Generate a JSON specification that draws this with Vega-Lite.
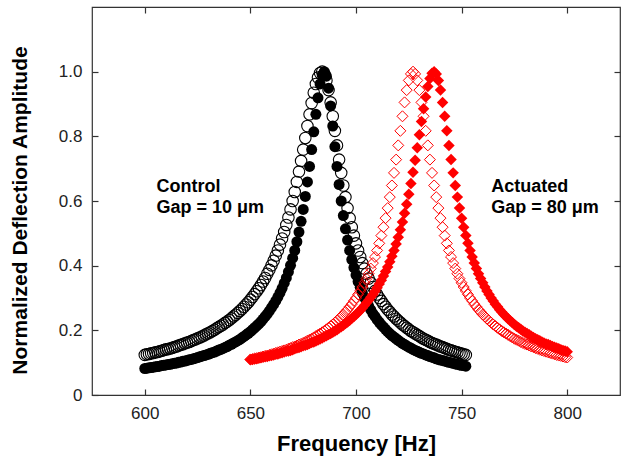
{
"$schema": "https://vega.github.io/schema/vega-lite/v6.json",
"width": 528, "height": 388,
"autosize": "none",
"padding": {"left": 92, "top": 7, "right": 9, "bottom": 67},
"background": "white",
"config": {"view": {"stroke": "#333333", "strokeWidth": 1.2}, "font": "Liberation Sans",
 "axis": {"grid": false, "domain": false, "tickColor": "#333333", "tickWidth": 1.2, "tickSize": -6, "labelFont": "Liberation Sans", "labelFontSize": 17, "labelColor": "#222222", "titleFont": "Liberation Sans", "titleFontSize": 20, "titleFontWeight": "bold", "titleColor": "#000000"}},
"datasets": {
"bo": [{"f":600,"a":0.124},{"f":601,"a":0.126},{"f":602,"a":0.127},{"f":603,"a":0.129},{"f":604,"a":0.130},{"f":605,"a":0.132},{"f":606,"a":0.133},{"f":607,"a":0.135},{"f":608,"a":0.137},{"f":609,"a":0.139},{"f":610,"a":0.141},{"f":611,"a":0.142},{"f":612,"a":0.144},{"f":613,"a":0.146},{"f":614,"a":0.148},{"f":615,"a":0.150},{"f":616,"a":0.153},{"f":617,"a":0.155},{"f":618,"a":0.157},{"f":619,"a":0.160},{"f":620,"a":0.162},{"f":621,"a":0.164},{"f":622,"a":0.167},{"f":623,"a":0.170},{"f":624,"a":0.172},{"f":625,"a":0.175},{"f":626,"a":0.178},{"f":627,"a":0.181},{"f":628,"a":0.184},{"f":629,"a":0.188},{"f":630,"a":0.191},{"f":631,"a":0.194},{"f":632,"a":0.198},{"f":633,"a":0.202},{"f":634,"a":0.206},{"f":635,"a":0.210},{"f":636,"a":0.214},{"f":637,"a":0.218},{"f":638,"a":0.223},{"f":639,"a":0.227},{"f":640,"a":0.232},{"f":641,"a":0.237},{"f":642,"a":0.243},{"f":643,"a":0.248},{"f":644,"a":0.254},{"f":645,"a":0.260},{"f":646,"a":0.266},{"f":647,"a":0.273},{"f":648,"a":0.280},{"f":649,"a":0.287},{"f":650,"a":0.295},{"f":651,"a":0.303},{"f":652,"a":0.312},{"f":653,"a":0.321},{"f":654,"a":0.330},{"f":655,"a":0.340},{"f":656,"a":0.351},{"f":657,"a":0.362},{"f":658,"a":0.375},{"f":659,"a":0.387},{"f":660,"a":0.401},{"f":661,"a":0.415},{"f":662,"a":0.431},{"f":663,"a":0.447},{"f":664,"a":0.465},{"f":665,"a":0.484},{"f":666,"a":0.504},{"f":667,"a":0.526},{"f":668,"a":0.549},{"f":669,"a":0.574},{"f":670,"a":0.600},{"f":671,"a":0.628},{"f":672,"a":0.659},{"f":673,"a":0.691},{"f":674,"a":0.724},{"f":675,"a":0.759},{"f":676,"a":0.795},{"f":677,"a":0.832},{"f":678,"a":0.868},{"f":679,"a":0.903},{"f":680,"a":0.935},{"f":681,"a":0.962},{"f":682,"a":0.982},{"f":683,"a":0.996},{"f":684,"a":1.0},{"f":685,"a":0.993},{"f":686,"a":0.973},{"f":687,"a":0.943},{"f":688,"a":0.905},{"f":689,"a":0.862},{"f":690,"a":0.817},{"f":691,"a":0.772},{"f":692,"a":0.728},{"f":693,"a":0.687},{"f":694,"a":0.648},{"f":695,"a":0.612},{"f":696,"a":0.578},{"f":697,"a":0.547},{"f":698,"a":0.519},{"f":699,"a":0.493},{"f":700,"a":0.469},{"f":701,"a":0.447},{"f":702,"a":0.427},{"f":703,"a":0.408},{"f":704,"a":0.391},{"f":705,"a":0.375},{"f":706,"a":0.360},{"f":707,"a":0.347},{"f":708,"a":0.334},{"f":709,"a":0.322},{"f":710,"a":0.311},{"f":711,"a":0.300},{"f":712,"a":0.291},{"f":713,"a":0.281},{"f":714,"a":0.273},{"f":715,"a":0.264},{"f":716,"a":0.257},{"f":717,"a":0.249},{"f":718,"a":0.243},{"f":719,"a":0.236},{"f":720,"a":0.230},{"f":721,"a":0.224},{"f":722,"a":0.218},{"f":723,"a":0.213},{"f":724,"a":0.208},{"f":725,"a":0.203},{"f":726,"a":0.198},{"f":727,"a":0.194},{"f":728,"a":0.190},{"f":729,"a":0.186},{"f":730,"a":0.182},{"f":731,"a":0.178},{"f":732,"a":0.174},{"f":733,"a":0.171},{"f":734,"a":0.168},{"f":735,"a":0.164},{"f":736,"a":0.161},{"f":737,"a":0.158},{"f":738,"a":0.156},{"f":739,"a":0.153},{"f":740,"a":0.150},{"f":741,"a":0.148},{"f":742,"a":0.145},{"f":743,"a":0.143},{"f":744,"a":0.140},{"f":745,"a":0.138},{"f":746,"a":0.136},{"f":747,"a":0.134},{"f":748,"a":0.132},{"f":749,"a":0.130},{"f":750,"a":0.128},{"f":751,"a":0.126},{"f":752,"a":0.124}],
"bf": [{"f":600,"a":0.082},{"f":601,"a":0.083},{"f":602,"a":0.084},{"f":603,"a":0.085},{"f":604,"a":0.086},{"f":605,"a":0.087},{"f":606,"a":0.088},{"f":607,"a":0.089},{"f":608,"a":0.091},{"f":609,"a":0.092},{"f":610,"a":0.093},{"f":611,"a":0.094},{"f":612,"a":0.095},{"f":613,"a":0.097},{"f":614,"a":0.098},{"f":615,"a":0.099},{"f":616,"a":0.101},{"f":617,"a":0.102},{"f":618,"a":0.104},{"f":619,"a":0.105},{"f":620,"a":0.107},{"f":621,"a":0.109},{"f":622,"a":0.110},{"f":623,"a":0.112},{"f":624,"a":0.114},{"f":625,"a":0.116},{"f":626,"a":0.118},{"f":627,"a":0.120},{"f":628,"a":0.122},{"f":629,"a":0.124},{"f":630,"a":0.126},{"f":631,"a":0.129},{"f":632,"a":0.131},{"f":633,"a":0.133},{"f":634,"a":0.136},{"f":635,"a":0.139},{"f":636,"a":0.141},{"f":637,"a":0.144},{"f":638,"a":0.147},{"f":639,"a":0.150},{"f":640,"a":0.154},{"f":641,"a":0.157},{"f":642,"a":0.161},{"f":643,"a":0.164},{"f":644,"a":0.168},{"f":645,"a":0.172},{"f":646,"a":0.177},{"f":647,"a":0.181},{"f":648,"a":0.186},{"f":649,"a":0.191},{"f":650,"a":0.196},{"f":651,"a":0.202},{"f":652,"a":0.208},{"f":653,"a":0.214},{"f":654,"a":0.220},{"f":655,"a":0.227},{"f":656,"a":0.235},{"f":657,"a":0.243},{"f":658,"a":0.251},{"f":659,"a":0.260},{"f":660,"a":0.270},{"f":661,"a":0.280},{"f":662,"a":0.291},{"f":663,"a":0.303},{"f":664,"a":0.316},{"f":665,"a":0.330},{"f":666,"a":0.346},{"f":667,"a":0.362},{"f":668,"a":0.381},{"f":669,"a":0.401},{"f":670,"a":0.423},{"f":671,"a":0.447},{"f":672,"a":0.474},{"f":673,"a":0.504},{"f":674,"a":0.537},{"f":675,"a":0.574},{"f":676,"a":0.614},{"f":677,"a":0.659},{"f":678,"a":0.707},{"f":679,"a":0.759},{"f":680,"a":0.814},{"f":681,"a":0.868},{"f":682,"a":0.919},{"f":683,"a":0.962},{"f":684,"a":0.990},{"f":685,"a":1.0},{"f":686,"a":0.986},{"f":687,"a":0.949},{"f":688,"a":0.894},{"f":689,"a":0.832},{"f":690,"a":0.768},{"f":691,"a":0.707},{"f":692,"a":0.651},{"f":693,"a":0.600},{"f":694,"a":0.555},{"f":695,"a":0.514},{"f":696,"a":0.479},{"f":697,"a":0.447},{"f":698,"a":0.419},{"f":699,"a":0.394},{"f":700,"a":0.371},{"f":701,"a":0.351},{"f":702,"a":0.333},{"f":703,"a":0.316},{"f":704,"a":0.301},{"f":705,"a":0.287},{"f":706,"a":0.275},{"f":707,"a":0.263},{"f":708,"a":0.252},{"f":709,"a":0.243},{"f":710,"a":0.233},{"f":711,"a":0.225},{"f":712,"a":0.217},{"f":713,"a":0.210},{"f":714,"a":0.203},{"f":715,"a":0.196},{"f":716,"a":0.190},{"f":717,"a":0.184},{"f":718,"a":0.179},{"f":719,"a":0.174},{"f":720,"a":0.169},{"f":721,"a":0.164},{"f":722,"a":0.160},{"f":723,"a":0.156},{"f":724,"a":0.152},{"f":725,"a":0.148},{"f":726,"a":0.145},{"f":727,"a":0.141},{"f":728,"a":0.138},{"f":729,"a":0.135},{"f":730,"a":0.132},{"f":731,"a":0.129},{"f":732,"a":0.127},{"f":733,"a":0.124},{"f":734,"a":0.122},{"f":735,"a":0.119},{"f":736,"a":0.117},{"f":737,"a":0.115},{"f":738,"a":0.112},{"f":739,"a":0.110},{"f":740,"a":0.108},{"f":741,"a":0.107},{"f":742,"a":0.105},{"f":743,"a":0.103},{"f":744,"a":0.101},{"f":745,"a":0.100},{"f":746,"a":0.098},{"f":747,"a":0.096},{"f":748,"a":0.095},{"f":749,"a":0.093},{"f":750,"a":0.092},{"f":751,"a":0.091},{"f":752,"a":0.089}],
"ro": [{"f":650,"a":0.110},{"f":651,"a":0.111},{"f":652,"a":0.113},{"f":653,"a":0.114},{"f":654,"a":0.116},{"f":655,"a":0.117},{"f":656,"a":0.119},{"f":657,"a":0.121},{"f":658,"a":0.122},{"f":659,"a":0.124},{"f":660,"a":0.126},{"f":661,"a":0.128},{"f":662,"a":0.130},{"f":663,"a":0.132},{"f":664,"a":0.134},{"f":665,"a":0.136},{"f":666,"a":0.138},{"f":667,"a":0.140},{"f":668,"a":0.143},{"f":669,"a":0.145},{"f":670,"a":0.148},{"f":671,"a":0.150},{"f":672,"a":0.153},{"f":673,"a":0.156},{"f":674,"a":0.158},{"f":675,"a":0.161},{"f":676,"a":0.164},{"f":677,"a":0.168},{"f":678,"a":0.171},{"f":679,"a":0.174},{"f":680,"a":0.178},{"f":681,"a":0.182},{"f":682,"a":0.186},{"f":683,"a":0.190},{"f":684,"a":0.194},{"f":685,"a":0.198},{"f":686,"a":0.203},{"f":687,"a":0.208},{"f":688,"a":0.213},{"f":689,"a":0.218},{"f":690,"a":0.224},{"f":691,"a":0.230},{"f":692,"a":0.236},{"f":693,"a":0.243},{"f":694,"a":0.249},{"f":695,"a":0.257},{"f":696,"a":0.264},{"f":697,"a":0.273},{"f":698,"a":0.281},{"f":699,"a":0.291},{"f":700,"a":0.300},{"f":701,"a":0.311},{"f":702,"a":0.322},{"f":703,"a":0.334},{"f":704,"a":0.347},{"f":705,"a":0.360},{"f":706,"a":0.375},{"f":707,"a":0.391},{"f":708,"a":0.408},{"f":709,"a":0.427},{"f":710,"a":0.447},{"f":711,"a":0.469},{"f":712,"a":0.493},{"f":713,"a":0.519},{"f":714,"a":0.547},{"f":715,"a":0.578},{"f":716,"a":0.612},{"f":717,"a":0.648},{"f":718,"a":0.687},{"f":719,"a":0.728},{"f":720,"a":0.772},{"f":721,"a":0.817},{"f":722,"a":0.862},{"f":723,"a":0.905},{"f":724,"a":0.943},{"f":725,"a":0.973},{"f":726,"a":0.993},{"f":727,"a":1.0},{"f":728,"a":0.993},{"f":729,"a":0.973},{"f":730,"a":0.943},{"f":731,"a":0.905},{"f":732,"a":0.862},{"f":733,"a":0.817},{"f":734,"a":0.772},{"f":735,"a":0.728},{"f":736,"a":0.687},{"f":737,"a":0.648},{"f":738,"a":0.612},{"f":739,"a":0.578},{"f":740,"a":0.547},{"f":741,"a":0.519},{"f":742,"a":0.493},{"f":743,"a":0.469},{"f":744,"a":0.447},{"f":745,"a":0.427},{"f":746,"a":0.408},{"f":747,"a":0.391},{"f":748,"a":0.375},{"f":749,"a":0.360},{"f":750,"a":0.347},{"f":751,"a":0.334},{"f":752,"a":0.322},{"f":753,"a":0.311},{"f":754,"a":0.300},{"f":755,"a":0.291},{"f":756,"a":0.281},{"f":757,"a":0.273},{"f":758,"a":0.264},{"f":759,"a":0.257},{"f":760,"a":0.249},{"f":761,"a":0.243},{"f":762,"a":0.236},{"f":763,"a":0.230},{"f":764,"a":0.224},{"f":765,"a":0.218},{"f":766,"a":0.213},{"f":767,"a":0.208},{"f":768,"a":0.203},{"f":769,"a":0.198},{"f":770,"a":0.194},{"f":771,"a":0.190},{"f":772,"a":0.186},{"f":773,"a":0.182},{"f":774,"a":0.178},{"f":775,"a":0.174},{"f":776,"a":0.171},{"f":777,"a":0.168},{"f":778,"a":0.164},{"f":779,"a":0.161},{"f":780,"a":0.158},{"f":781,"a":0.156},{"f":782,"a":0.153},{"f":783,"a":0.150},{"f":784,"a":0.148},{"f":785,"a":0.145},{"f":786,"a":0.143},{"f":787,"a":0.140},{"f":788,"a":0.138},{"f":789,"a":0.136},{"f":790,"a":0.134},{"f":791,"a":0.132},{"f":792,"a":0.130},{"f":793,"a":0.128},{"f":794,"a":0.126},{"f":795,"a":0.124},{"f":796,"a":0.122},{"f":797,"a":0.121},{"f":798,"a":0.119},{"f":799,"a":0.117},{"f":800,"a":0.116}],
"rf": [{"f":650,"a":0.109},{"f":651,"a":0.110},{"f":652,"a":0.111},{"f":653,"a":0.112},{"f":654,"a":0.114},{"f":655,"a":0.115},{"f":656,"a":0.117},{"f":657,"a":0.118},{"f":658,"a":0.119},{"f":659,"a":0.121},{"f":660,"a":0.122},{"f":661,"a":0.124},{"f":662,"a":0.126},{"f":663,"a":0.127},{"f":664,"a":0.129},{"f":665,"a":0.131},{"f":666,"a":0.133},{"f":667,"a":0.135},{"f":668,"a":0.136},{"f":669,"a":0.138},{"f":670,"a":0.140},{"f":671,"a":0.143},{"f":672,"a":0.145},{"f":673,"a":0.147},{"f":674,"a":0.149},{"f":675,"a":0.152},{"f":676,"a":0.154},{"f":677,"a":0.156},{"f":678,"a":0.159},{"f":679,"a":0.162},{"f":680,"a":0.164},{"f":681,"a":0.167},{"f":682,"a":0.170},{"f":683,"a":0.173},{"f":684,"a":0.176},{"f":685,"a":0.180},{"f":686,"a":0.183},{"f":687,"a":0.187},{"f":688,"a":0.190},{"f":689,"a":0.194},{"f":690,"a":0.198},{"f":691,"a":0.202},{"f":692,"a":0.207},{"f":693,"a":0.211},{"f":694,"a":0.216},{"f":695,"a":0.221},{"f":696,"a":0.226},{"f":697,"a":0.231},{"f":698,"a":0.237},{"f":699,"a":0.243},{"f":700,"a":0.249},{"f":701,"a":0.255},{"f":702,"a":0.262},{"f":703,"a":0.269},{"f":704,"a":0.277},{"f":705,"a":0.285},{"f":706,"a":0.293},{"f":707,"a":0.302},{"f":708,"a":0.311},{"f":709,"a":0.321},{"f":710,"a":0.332},{"f":711,"a":0.343},{"f":712,"a":0.355},{"f":713,"a":0.368},{"f":714,"a":0.382},{"f":715,"a":0.396},{"f":716,"a":0.412},{"f":717,"a":0.429},{"f":718,"a":0.447},{"f":719,"a":0.467},{"f":720,"a":0.488},{"f":721,"a":0.511},{"f":722,"a":0.535},{"f":723,"a":0.562},{"f":724,"a":0.590},{"f":725,"a":0.621},{"f":726,"a":0.654},{"f":727,"a":0.689},{"f":728,"a":0.726},{"f":729,"a":0.765},{"f":730,"a":0.805},{"f":731,"a":0.846},{"f":732,"a":0.885},{"f":733,"a":0.922},{"f":734,"a":0.954},{"f":735,"a":0.979},{"f":736,"a":0.995},{"f":737,"a":1.0},{"f":738,"a":0.993},{"f":739,"a":0.973},{"f":740,"a":0.943},{"f":741,"a":0.905},{"f":742,"a":0.862},{"f":743,"a":0.817},{"f":744,"a":0.772},{"f":745,"a":0.728},{"f":746,"a":0.687},{"f":747,"a":0.648},{"f":748,"a":0.612},{"f":749,"a":0.578},{"f":750,"a":0.547},{"f":751,"a":0.519},{"f":752,"a":0.493},{"f":753,"a":0.469},{"f":754,"a":0.447},{"f":755,"a":0.427},{"f":756,"a":0.408},{"f":757,"a":0.391},{"f":758,"a":0.375},{"f":759,"a":0.360},{"f":760,"a":0.347},{"f":761,"a":0.334},{"f":762,"a":0.322},{"f":763,"a":0.311},{"f":764,"a":0.300},{"f":765,"a":0.291},{"f":766,"a":0.281},{"f":767,"a":0.273},{"f":768,"a":0.264},{"f":769,"a":0.257},{"f":770,"a":0.249},{"f":771,"a":0.243},{"f":772,"a":0.236},{"f":773,"a":0.230},{"f":774,"a":0.224},{"f":775,"a":0.218},{"f":776,"a":0.213},{"f":777,"a":0.208},{"f":778,"a":0.203},{"f":779,"a":0.198},{"f":780,"a":0.194},{"f":781,"a":0.190},{"f":782,"a":0.186},{"f":783,"a":0.182},{"f":784,"a":0.178},{"f":785,"a":0.174},{"f":786,"a":0.171},{"f":787,"a":0.168},{"f":788,"a":0.164},{"f":789,"a":0.161},{"f":790,"a":0.158},{"f":791,"a":0.156},{"f":792,"a":0.153},{"f":793,"a":0.150},{"f":794,"a":0.148},{"f":795,"a":0.145},{"f":796,"a":0.143},{"f":797,"a":0.140},{"f":798,"a":0.138},{"f":799,"a":0.136},{"f":800,"a":0.134}],
"labels": [{"f":605.5,"a":0.629,"t":"Control"},{"f":605.5,"a":0.562,"t":"Gap = 10 μm"},{"f":764,"a":0.629,"t":"Actuated"},{"f":764,"a":0.562,"t":"Gap = 80 μm"}]
},
"layer": [
 {"data": {"name": "bo"},
  "mark": {"type": "point", "shape": "circle", "filled": false, "stroke": "#000000", "strokeWidth": 1.1, "size": 132, "opacity": 1},
  "encoding": {
   "x": {"field": "f", "type": "quantitative", "scale": {"domain": [575, 825], "nice": false, "zero": false},
         "axis": {"orient": "bottom", "title": "Frequency [Hz]", "titleFontSize": 22, "values": [600, 650, 700, 750, 800], "labelPadding": 16, "titlePadding": 12}},
   "y": {"field": "a", "type": "quantitative", "scale": {"domain": [0, 1.2], "nice": false},
         "axis": {"orient": "left", "title": "Normalized Deflection Amplitude", "titleFontSize": 21, "titleY": 203, "values": [0, 0.2, 0.4, 0.6, 0.8, 1.0], "labelExpr": "datum.value == 0 ? '0' : format(datum.value, '.1f')", "labelPadding": 16, "titlePadding": 28}}}},
 {"data": {"name": "bf"},
  "mark": {"type": "point", "shape": "circle", "filled": true, "fill": "#000000", "size": 121, "opacity": 1, "strokeWidth": 0},
  "encoding": {
   "x": {"field": "f", "type": "quantitative", "scale": {"domain": [575, 825], "nice": false, "zero": false},
         "axis": {"orient": "top", "labels": false, "title": null, "values": [600, 650, 700, 750, 800]}},
   "y": {"field": "a", "type": "quantitative", "scale": {"domain": [0, 1.2], "nice": false},
         "axis": {"orient": "right", "labels": false, "title": null, "values": [0.2, 0.4, 0.6, 0.8, 1.0]}}}},
 {"data": {"name": "ro"},
  "mark": {"type": "point", "shape": "diamond", "filled": false, "stroke": "#ff0000", "strokeWidth": 1, "size": 121, "opacity": 1},
  "encoding": {
   "x": {"field": "f", "type": "quantitative", "axis": null},
   "y": {"field": "a", "type": "quantitative", "axis": null}}},
 {"data": {"name": "rf"},
  "mark": {"type": "point", "shape": "diamond", "filled": true, "fill": "#ff0000", "size": 132, "opacity": 1, "strokeWidth": 0},
  "encoding": {
   "x": {"field": "f", "type": "quantitative", "axis": null},
   "y": {"field": "a", "type": "quantitative", "axis": null}}},
 {"data": {"name": "labels"},
  "mark": {"type": "text", "align": "left", "baseline": "alphabetic", "font": "Liberation Sans", "fontSize": 18, "fontWeight": "bold", "color": "#000000"},
  "encoding": {
   "x": {"field": "f", "type": "quantitative", "axis": null},
   "y": {"field": "a", "type": "quantitative", "axis": null},
   "text": {"field": "t"}}}
]
}
